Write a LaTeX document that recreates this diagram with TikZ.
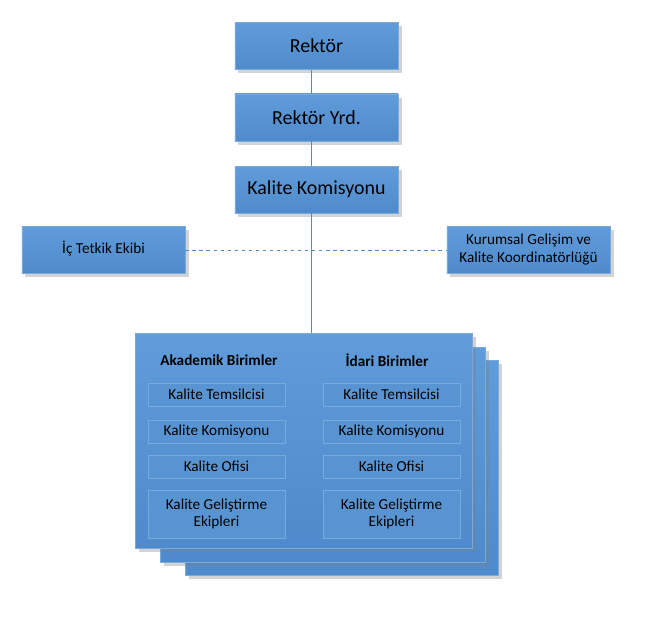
\documentclass[tikz,border=0pt]{standalone}
\usepackage{fontspec}
\setmainfont{Carlito}
\usetikzlibrary{shadows}
\definecolor{boxblue}{RGB}{79,139,204}
\definecolor{boxtop}{RGB}{96,156,218}
\definecolor{edgeblue}{RGB}{120,170,220}
\definecolor{cellblue}{RGB}{88,148,210}
\definecolor{linkblue}{RGB}{80,140,205}
\tikzset{
	unit/.style={draw=edgeblue, top color=boxtop, bottom color=boxblue, text=black, drop shadow={opacity=0.35, shadow xshift=3pt, shadow yshift=-3pt}},
	cell/.style={draw=edgeblue, fill=cellblue, text=black, font=\fontsize{13}{15}\selectfont, align=center},
	big/.style={font=\fontsize{17}{20}\selectfont},
	mid/.style={font=\fontsize{13}{15}\selectfont},
	head/.style={font=\fontsize{13}{15}\selectfont\bfseries}
}
\begin{document}
\begin{tikzpicture}[x=0.03cm, y=-0.03cm]
	\useasboundingbox (0,0) rectangle (655,618);
	% stacked units
	\draw[unit] (185,360) rectangle (498,575);
	\draw[unit] (160,347) rectangle (485,562);
	\draw[unit] (135,333) rectangle (472,548);
	\node[head] (akd) at (219,360) {Akademik Birimler};
	\node[head] (idr) at (387,360) {İdari Birimler};
	\foreach \x/\n in {216.5/a, 391.5/b} {
		\node[cell, minimum width=4.1cm, minimum height=0.69cm] (t\n) at (\x,394.5) {Kalite Temsilcisi};
		\node[cell, minimum width=4.1cm, minimum height=0.69cm] (k\n) at (\x,431.5) {Kalite Komisyonu};
		\node[cell, minimum width=4.1cm, minimum height=0.69cm] (o\n) at (\x,466.5) {Kalite Ofisi};
		\node[cell, minimum width=4.1cm, minimum height=1.44cm] (g\n) at (\x,514) {Kalite Geliştirme\\Ekipleri};
	}
	% top chain
	\node[unit, minimum width=4.9cm, minimum height=1.41cm, big] (rek) at (316.5,46) {Rektör};
	\node[unit, minimum width=4.9cm, minimum height=1.41cm, big] (yrd) at (316.5,117.5) {Rektör Yrd.};
	\node[unit, minimum width=4.9cm, minimum height=1.41cm, big] (kom) at (316.5,189.5) {Kalite Komisyonu};
	\node[unit, minimum width=4.9cm, minimum height=1.41cm, mid, anchor=north, text height=1.8ex] (ict) at (103.5,226) {İç Tetkik Ekibi};
	\node[unit, minimum width=4.9cm, minimum height=1.41cm, mid, align=center] (kgk) at (528.5,249.5) {Kurumsal Gelişim ve\\Kalite Koordinatörlüğü};
	\coordinate (stk) at (311,333);
	\draw[linkblue] (rek.south -| 311,0) -- (yrd.north -| 311,0);
	\draw[linkblue] (yrd.south -| 311,0) -- (kom.north -| 311,0);
	\draw[linkblue] (kom.south -| 311,0) -- (stk);
	\draw[linkblue, dashed] (ict.east |- 0,250) -- (kgk.west |- 0,250);
\end{tikzpicture}
\end{document}
